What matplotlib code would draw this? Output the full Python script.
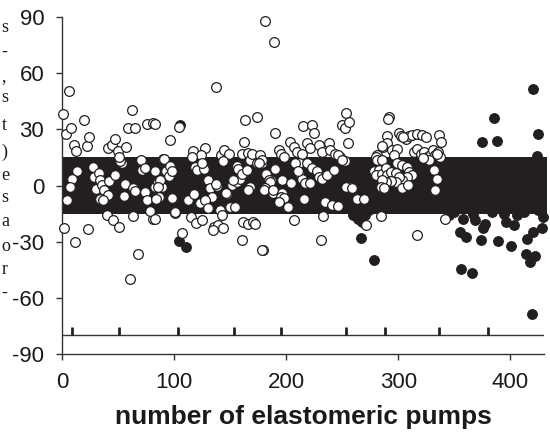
import matplotlib
matplotlib.use("Agg")
import matplotlib.pyplot as plt
from matplotlib.patches import Rectangle

# ---------------- data ----------------
open_x = [1, 6, 3, 8, 10, 12, 19, 22, 24, 13, 9, 7, 4.5, 27, 28, 30, 32.5, 34, 35, 37, 41, 34, 36, 42, 47,
          53, 51.6, 56, 55, 63, 65, 70, 70.7, 74, 73.4, 76, 82.6, 83, 81, 63, 40, 45, 50.5, 1.5, 23, 11,
          67.7, 60, 40.5, 44, 47, 49.6, 51, 57, 58.5, 64.8, 62, 76, 81, 96, 104.5, 78, 100.6, 106.6,
          90, 93, 95, 89, 85, 91, 96, 97.7, 87.4, 85, 86.3, 97.7, 100.6, 82.8, 82.8, 84,
          117, 127.4, 124, 115.5, 141.7, 144.6, 148.8, 160, 165.5, 170.5, 167.6, 163, 162.5, 137, 173.8,
          181, 189, 143.6, 155.7, 157, 167.6, 118.5, 120, 126.8, 129.8, 131.9, 134, 137.9, 112, 117.9,
          123, 127.4, 130.4, 140.8, 146.8, 149.7, 154.2, 151.2, 155.7, 158.7, 160.2, 164.6, 166, 125,
          137, 146, 152, 174, 178.5, 182, 186, 185, 188, 196,
          114.6, 119, 124.5, 142.3, 135.7, 139.3, 143.8, 161.6, 165.5, 170.5, 160.2, 134.8, 178.9, 171.8,
          169.4, 176.8, 178.3, 175.4, 193.2, 195.5, 197.7, 203.6, 206.6, 209.5, 214, 218.5, 221.4, 228.9,
          231.9, 237.9, 239.3, 243.8, 248.2, 252.1, 215, 223, 224.4, 253.6, 249.7, 252, 255.7, 255, 189.6,
          246, 190.2, 184.3, 185.8, 181.3, 179.8, 187.8, 196.2, 195.5, 197.7, 193.2, 201.5, 204.5, 211,
          214, 216.4, 221.4, 211, 218.5, 223, 227.4, 228.9, 231.9, 236.3, 242.3, 215.5, 234.3, 240.8,
          246.2, 250, 257, 263, 253.6, 208, 210, 232.8, 206.6, 231.3, 178.3,
          292, 291, 289.6, 286.6, 280.7, 282, 290, 285.7, 300.6, 302, 306.5, 309.5, 312.5, 317, 320.8,
          324.4, 336.3, 337.8, 294.6, 299, 296, 279.8, 281.3, 285.7, 314, 317, 320, 323, 326, 329,
          330.6, 333, 335, 327.5, 321.6, 337.2, 334.3, 304.5,
          278.3, 282.8, 279.8, 285.8, 289.3, 290.2, 293.2, 297.7, 299.2, 303.6, 308.1, 309.6, 312.5,
          308.1, 303.6, 300.6, 297.7, 293.2, 289.3, 285.8, 284.3, 287.3, 303.6, 309, 331.9, 334.9,
          332.8, 259, 269.4, 284.3, 271.5, 317, 341.7]
open_y = [38, 50.7, 27.5, 30.5, 21.6, 18.4, 35.3, 21.2, 26, 8, 3.5, -0.7, -8, 10, 4.6, -2, 6.7, 2.8, 0.5,
          -2.5, -5.2, -7, -7.5, 2.5, 5.5, 12, 13.3, 0.7, -5.7, -1.6, -3, 13.6, 8.5, 9.6, -3.4, -8, 8, -1,
          -17.7, -16.4, -16, -18.6, -22, -22.5, -23.5, -30.4, -36.4, -50.2, 20, 21.6, 25, 18.6, 15.5, 20.7,
          30.5, 31, 40.3, 32.7, 33.2, 24.6, 31.4, -13.6, -14.5, -25.6,
          14, 8, 5, -1, 2, 14, 10.6, 8, 3, -1, -6.4, -6.6, -14, 33, -17.8, -7,
          18.5, 19.8, 16.2, 15.3, 16.2, 19, 17.1, 17, 17.5, 15.3, 13.5, 34.8, 23.4, 52.5, 36.7,
          88.2, 76.9, 13, 10.7, 8.6, -0.7, 10, 8.2, 8.6, 2.8, -1.6, -6.4, -0.4, -7.5, -4.7,
          -9.6, -7.9, -12.3, -13.2, -4.3, -11.5, -11.5, 0.2, 1.9, 3.7, 6.4, 8.2, -2.5, 12,
          1, -4, 3, 12, 12, 6, 3, -1, -4, -4,
          -16.6, -20.2, -18.6, -15.9, -22.2, -21.3, -23, -19.6, -20.5, -19.6, -29.3, -23.9, -34.7, -20.4,
          17, 16.2, 13.5, 11.8, 18.9, 17.1, 15.3, 23.4, 20.7, 18, 17.1, 22.5, 19.8, 21.6,
          18, 22.5, 18.9, 17.1, 15.3, 13.2, 32, 32.3, 28.2, 38.6, 32.3, 30.5, 34, 23, 28.2,
          16.5, 8.6, 3.2, 2, -1.3, -2.5, -2.5, 3.2, -5.9, -6.6, -8.8, -11.5, 1.4, 6.7,
          3.7, 1.4, 1.4, 11.8, 11.8, 9.1, 7.8, 4.6, 3.7, 5.5, 8.2, -7, -8.8, -10.6,
          -11.2, 13.6, -0.7, -7, -1, 12, 8, -16.3, -18.6, -28.9, -34.3,
          36.7, 35.5, 26.4, 20.7, 16.2, 13.9, 22.5, 21, 28.2, 26.4, 25.1, 26.4, 26.9, 27.8, 26.9,
          26, 26.9, 23.4, 18.9, 19.3, 16.2, 15.3, 13.5, 13.9, 18, 19.3, 17.1, 18, 15.3, 17.1,
          18.9, 16.2, 18, 13.9, 14.5, 15.3, 17.1, 25.7,
          7.8, 8.5, 5.5, 6.4, 9.1, 5.5, 7.3, 6.8, 11.8, 10.9, 10, 7.3, 5.5,
          4.6, 2.8, 4.6, 1.9, 2.5, 1.9, 3.2, -0.7, -1.6, -1.1, 0.2, 8.5, 3.7,
          -2.2, -1.1, -7, -16.4, -21.3, -26.6, -17.7]

filled_x = [105.5, 104.5, 110.2, 259.8, 267.3, 266.7, 278.6, 262, 270, 274, 264,
            419.9, 385.7, 375, 387.8, 425, 423.5, 358, 368.5, 377.4, 375.9, 373.5, 388.8, 400.6,
            396.2, 403.3, 414.6, 420.5, 428, 414, 422, 417.6, 419.1, 429.5, 394, 405.7, 383.4, 367,
            355.1, 360.4, 355.7, 365.5, 345, 350, 412, 425, 362, 380, 392, 408, 418]
filled_y = [32.5, -29.9, -32.9, -15.9, -19.5, -27.9, -40, -14, -16, -13, -18,
            51.4, 36.2, 23.4, 23.7, 27.3, 15.7, -17.7, -18.2, -20.4, -23, -28.9, -29.7, -32.5,
            -19.5, -21.3, -28.4, -24.8, -22.7, -36.8, -37.9, -40.9, -68.6, -16.8, -15, -15.9, -14.1, -15,
            -24.8, -27.5, -44.5, -46.8, -16, -14, -14, -13, 5, -6, 9, -3, 2]

batch_ticks = [9, 51, 103, 153, 195, 253, 288, 336, 380]
band_low, band_high = -15, 15
xticks = [0, 100, 200, 300, 400]
yticks = [-90, -60, -30, 0, 30, 60, 90]
xlabel = "number of elastomeric pumps"
margin_chars = ["s", "-", ",", "s", "t", ")", "e", "s", "a", "o", "r", "-"]
margin_ypx = [27, 52, 77, 98, 125, 152, 175, 197, 222, 247, 270, 293]

# ---------------- figure ----------------
W, H = 550, 433
fig = plt.figure(figsize=(W / 100, H / 100), dpi=100)
ax = fig.add_axes([62.3 / W, 1 - 353.7 / H, (544 - 62.3) / W, (353.7 - 17.3) / H])
ink = "#231f20"
line_c = "#333333"

ax.set_xlim(0, 430)
ax.set_ylim(-90, 90)

ax.add_patch(Rectangle((0, band_low), 433, band_high - band_low, facecolor=ink,
                       edgecolor="none", zorder=1, clip_on=False))

ax.scatter(filled_x, filled_y, s=49, facecolor=ink, edgecolor=ink, linewidths=0.8,
           zorder=3, clip_on=False)
ax.scatter(open_x, open_y, s=49, facecolor="white", edgecolor=ink, linewidths=0.9,
           zorder=4, clip_on=False)

ax.hlines(-80, 0, 430, color=line_c, lw=1.0, zorder=2)
ax.vlines(batch_ticks, -80, -75.5, color=ink, lw=2.0, zorder=2)

for s in ["top", "right"]:
    ax.spines[s].set_visible(False)
for s in ["left", "bottom"]:
    ax.spines[s].set_color(line_c)
    ax.spines[s].set_linewidth(1.0)

ax.set_xticks(xticks)
ax.set_yticks(yticks)
ax.set_yticklabels([str(v) for v in yticks])
ax.tick_params(axis="both", direction="out", length=4, width=1.0, color=line_c,
               labelsize=16, pad=9, labelcolor="#1a1a1a")
for lab in ax.get_xticklabels() + ax.get_yticklabels():
    lab.set_family("Liberation Sans")

ax.set_xlabel(xlabel, fontsize=19, fontweight="bold", family="Liberation Sans",
              color="#1a1a1a", labelpad=9)

for ch, ypx in zip(margin_chars, margin_ypx):
    fig.text(1.5 / W, 1 - ypx / H, ch, ha="left", va="center", fontsize=13,
             family="Liberation Serif", color="#1a1a1a")

fig.savefig("out.png", dpi=100)
